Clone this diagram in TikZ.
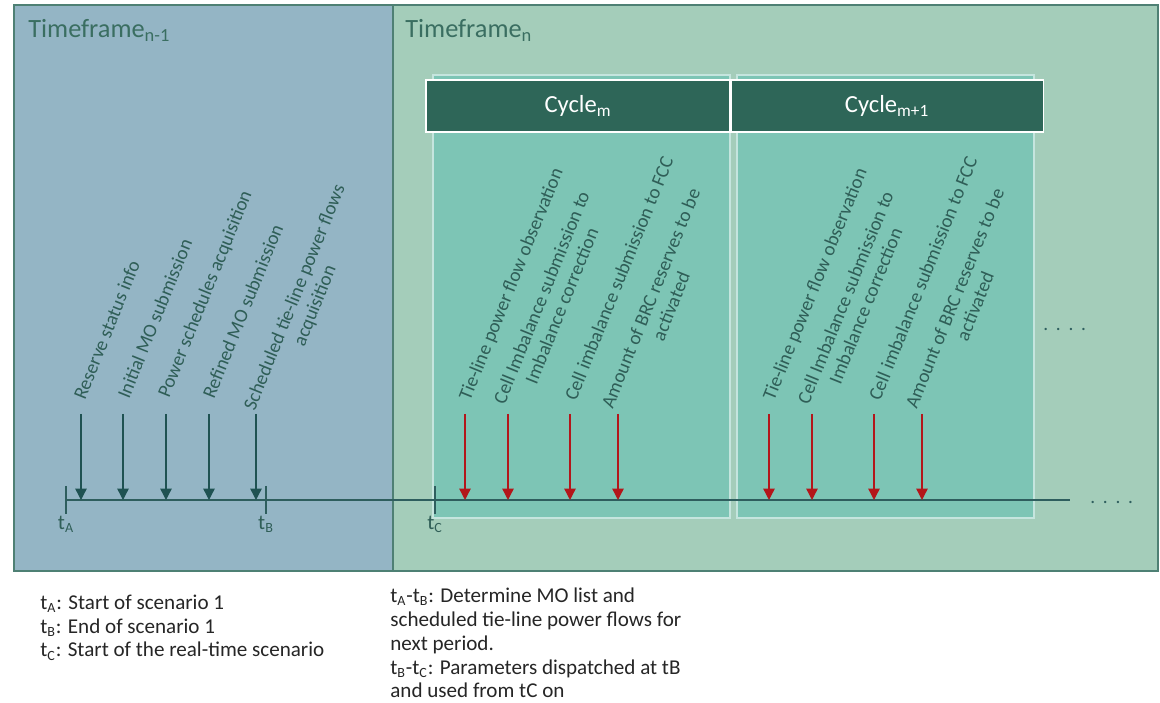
\documentclass[tikz,border=0pt]{standalone}
\usepackage{fontspec}
\setmainfont{Carlito}
\usetikzlibrary{positioning, arrows.meta}

\definecolor{prevbg}{HTML}{94B5C5}
\definecolor{curbg}{HTML}{A4CDBA}
\definecolor{cyclebg}{HTML}{7DC5B5}
\definecolor{headbg}{HTML}{2E6658}
\definecolor{framecol}{HTML}{4E8074}
\definecolor{tftext}{HTML}{3A6E61}
\definecolor{lbltext}{HTML}{2F5E57}
\definecolor{darrowcol}{HTML}{1F5252}
\definecolor{rarrowcol}{HTML}{B3161A}
\definecolor{axiscol}{HTML}{2E5E5E}
\definecolor{notetext}{HTML}{262626}

\tikzset{
  panel/.style={draw=framecol, line width=0.8pt},
  cyclebox/.style={fill=cyclebg, draw=white!55!cyclebg, line width=0.6pt},
  cyclehead/.style={fill=headbg, draw=white, line width=0.6pt, text=white,
    font=\fontsize{14}{16}\selectfont, minimum height=10.4mm, inner sep=0pt},
  tftitle/.style={text=tftext, font=\fontsize{15}{18}\selectfont, anchor=base west, inner sep=0pt},
  % base of a two-line label is the baseline of its last line
  evlabel/.style={text=lbltext, font=\fontsize{11}{12.5}\selectfont, rotate=68,
    anchor=base west, inner sep=0pt, align=center},
  darrow/.style={draw=darrowcol, line width=0.8pt, -{Triangle[length=6.5pt,width=6.5pt]}},
  rarrow/.style={draw=rarrowcol, line width=0.8pt, -{Triangle[length=6.5pt,width=6.5pt]}},
  axisline/.style={draw=axiscol, line width=1.1pt},
  tickmark/.style={draw=axiscol, line width=0.6pt},
  ticklabel/.style={text=lbltext, font=\fontsize{12}{14}\selectfont, inner sep=1pt},
  notes/.style={text=notetext, font=\fontsize{12}{13.6}\selectfont, align=left,
    anchor=base west, inner sep=0pt},
  moredots/.style={text=axiscol, font=\fontsize{11}{12}\selectfont, anchor=base west, inner sep=0pt}
}

\begin{document}
\begin{tikzpicture}[x=0.2mm, y=-0.2mm]
  \useasboundingbox (0,0) rectangle (1160,703);
  \fill[white] (0,0) rectangle (1160,703);

  % the two time frames
  \path[panel, fill=prevbg] (14,5) rectangle (393,571);
  \path[panel, fill=curbg] (393,5) rectangle (1158,571);
  \node[tftitle] (tfprev) at (28,38) {Timeframe\textsubscript{n-1}};
  \node[tftitle] (tfcur) at (405,38) {Timeframe\textsubscript{n}};

  % cycles
  \path[cyclebox] (433,75) rectangle (730,518);
  \path[cyclebox] (737,75) rectangle (1034,518);
  \node[cyclehead, minimum width=60.8mm] (cyc1) at (578,106) {Cycle\textsubscript{m}};
  \node[cyclehead, minimum width=62.4mm, right=0pt of cyc1] (cyc2) {Cycle\textsubscript{m+1}};

  % time line
  \coordinate (tlstart) at (66,500);
  \coordinate (tlend) at (1070,500);
  \draw[axisline] (tlstart) -- (tlend);
  \foreach \n/\x in {A/66,B/266,C/435} {
    \coordinate (t\n) at (\x,500);
    \draw[tickmark] (t\n) ++(0,-14) -- ++(0,28) node[below, ticklabel] (lbl\n) {t\textsubscript{\n}};
  }

  % events of the previous frame
  \foreach \x [count=\i] in {81,123,166,209,256} {
    \coordinate (d\i) at (\x,500);
    \draw[darrow] (d\i) ++(0,-86) -- (d\i);
  }
  \node[evlabel] (reserve) at (85,401) {Reserve status info};
  \node[evlabel] (initmo) at (129,400) {Initial MO submission};
  \node[evlabel] (powsched) at (169,399) {Power schedules acquisition};
  \node[evlabel] (refmo) at (214,400) {Refined MO submission};
  \node[evlabel] (tieline) at (275,420) {Scheduled tie-line power flows\\acquisition};

  % events of each cycle
  \foreach \off [count=\c] in {0,304} {
    \foreach \x [count=\i] in {465,508,570,618} {
      \coordinate (r\c\i) at (\x+\off,500);
      \draw[rarrow] (r\c\i) ++(0,-86) -- (r\c\i);
    }
    \node[evlabel] (obs\c) at (470+\off,402) {Tie-line power flow observation};
    \node[evlabel] (corr\c) at (525+\off,414) {Cell Imbalance submission to\\Imbalance correction};
    \node[evlabel] (fcc\c) at (576+\off,402) {Cell imbalance submission to FCC};
    \node[evlabel] (brc\c) at (633+\off,418) {Amount of BRC reserves to be\\activated};
  }

  \node[moredots] (more1) at (1043,331) {.\hspace{4.4pt}.\hspace{4.4pt}.\hspace{4.4pt}.};
  \node[moredots] (more2) at (1090,504) {.\hspace{4.4pt}.\hspace{4.4pt}.\hspace{4.4pt}.};

  % legend (placed by the baseline of the last line)
  \node[notes] (keyleft) at (40,657) {t\textsubscript{A}: Start of scenario 1\\
    t\textsubscript{B}: End of scenario 1\\
    t\textsubscript{C}: Start of the real-time scenario};
  \node[notes] (keyright) at (390,698) {t\textsubscript{A}-t\textsubscript{B}: Determine MO list and\\
    scheduled tie-line power flows for\\
    next period.\\
    t\textsubscript{B}-t\textsubscript{C}: Parameters dispatched at tB\\
    and used from tC on};
\end{tikzpicture}
\end{document}
